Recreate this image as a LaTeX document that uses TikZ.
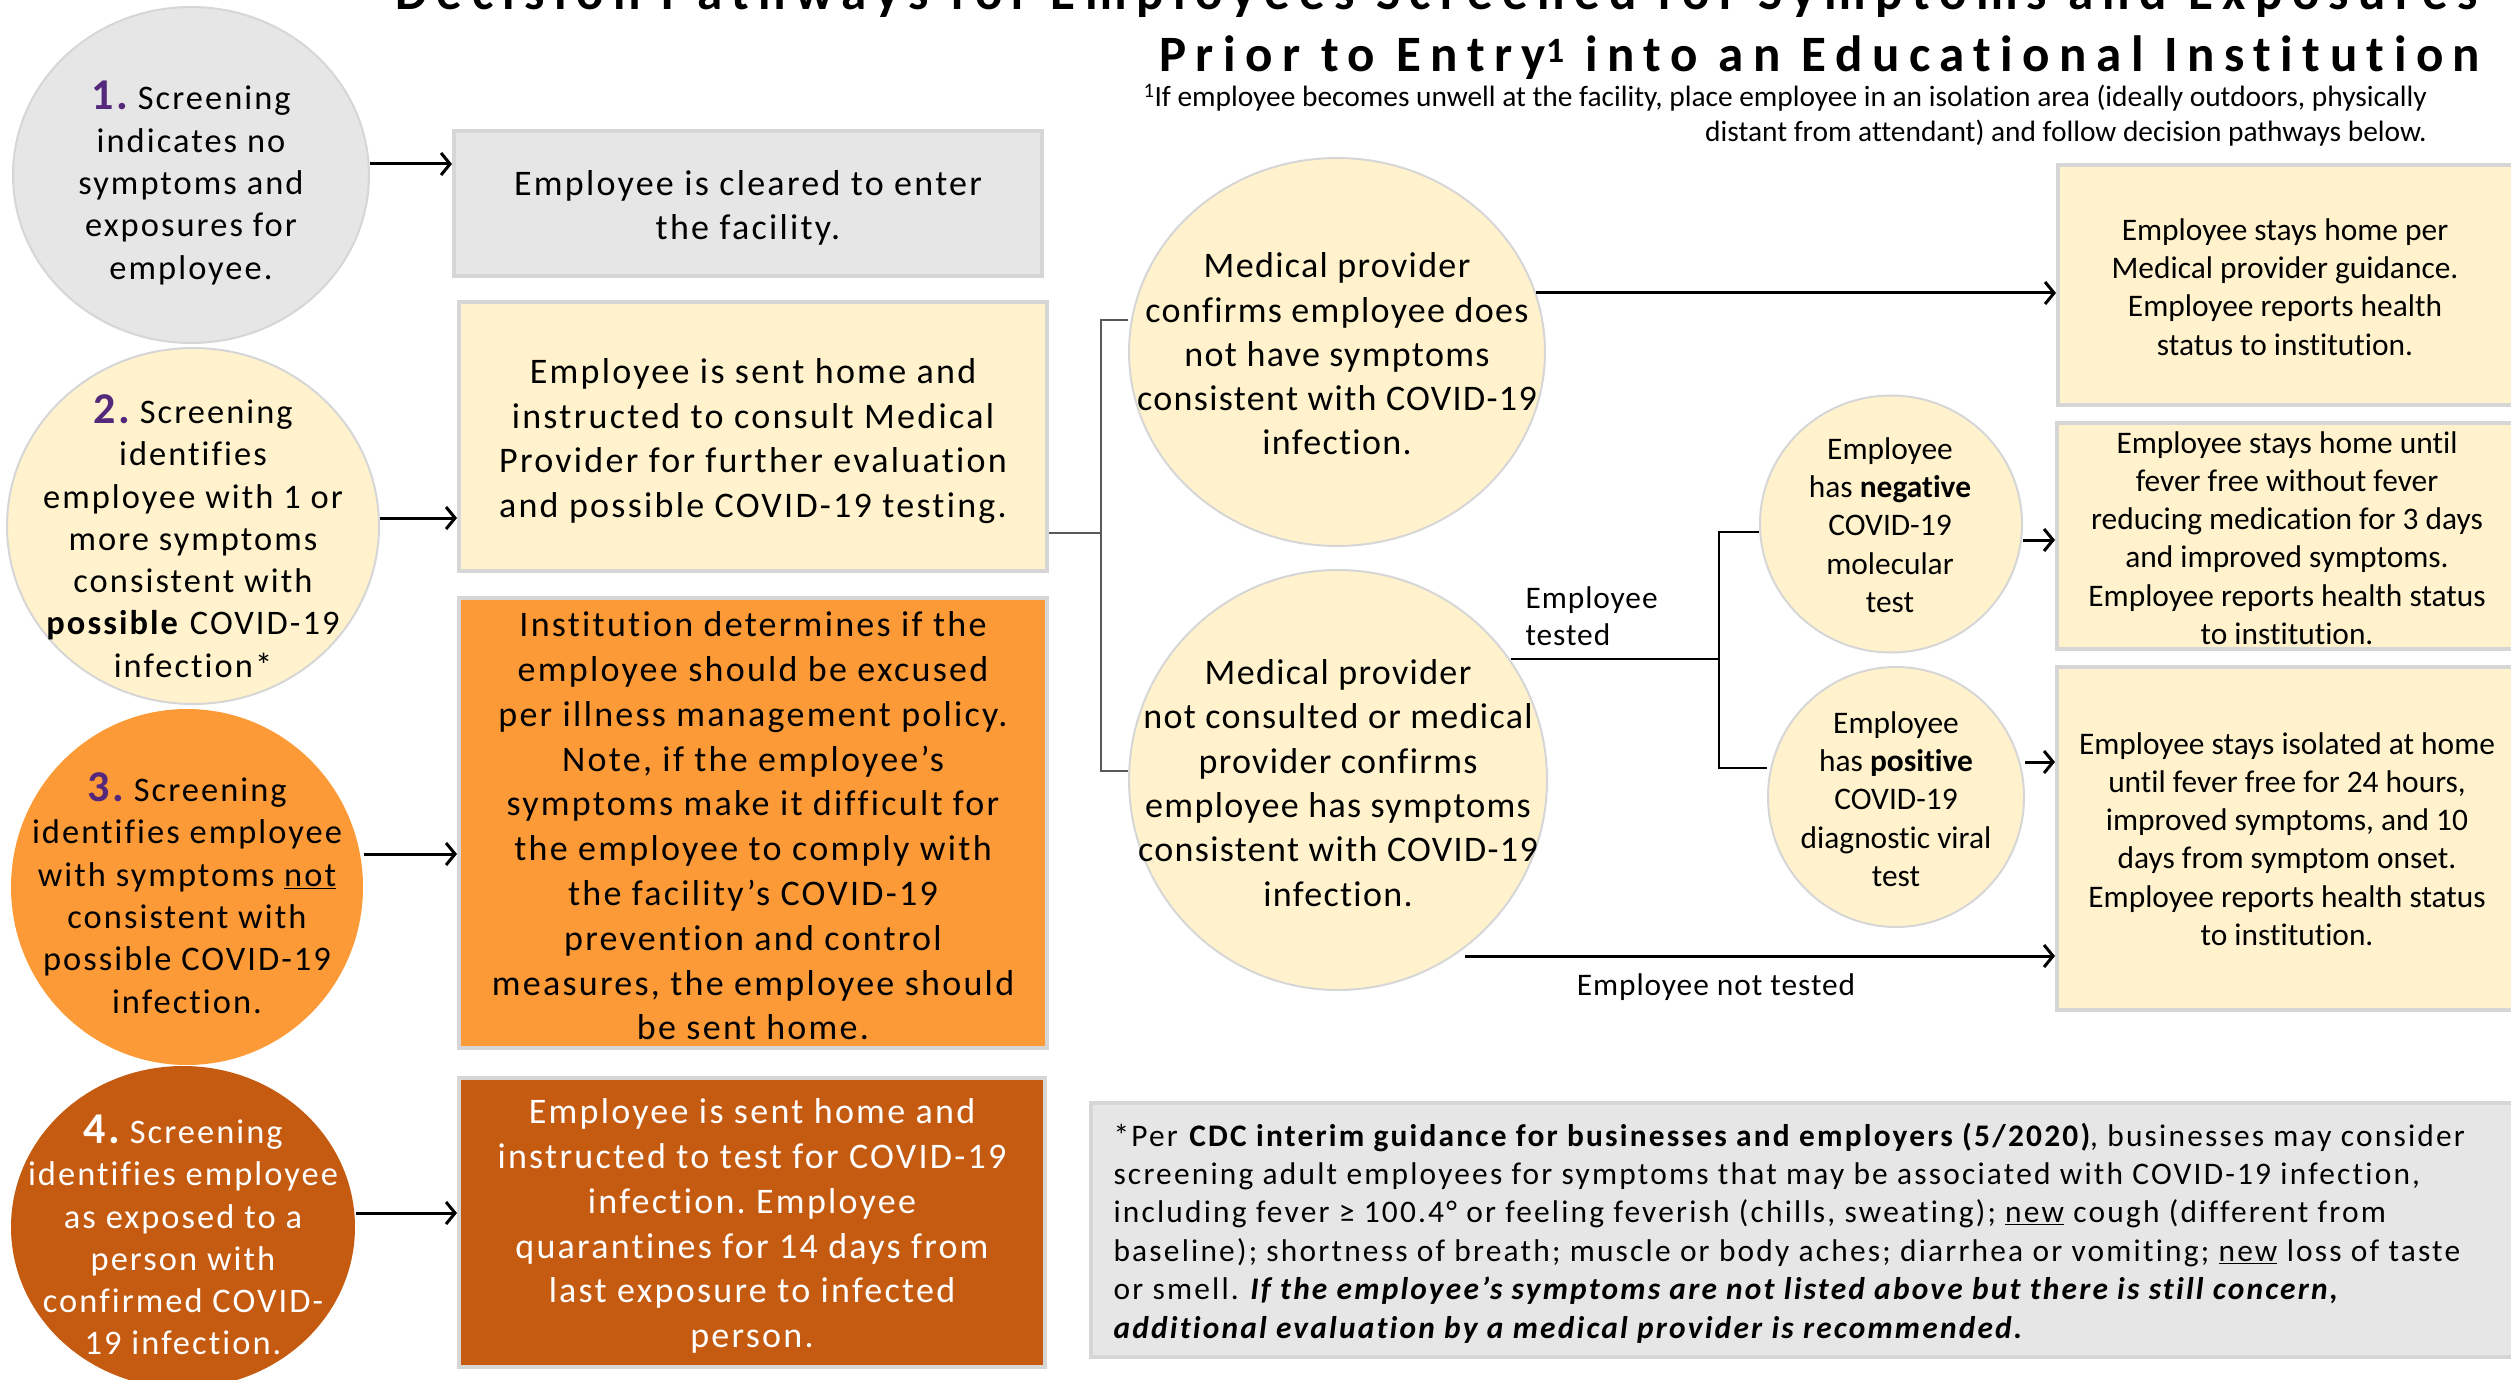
\documentclass[tikz,border=0pt]{standalone}
\usepackage{fontspec}
\setmainfont[Ligatures=NoCommon]{Carlito}
\newfontfamily\circfont[LetterSpace=6,Ligatures=NoCommon]{Carlito}
\newfontfamily\boxfont[LetterSpace=6.3,Ligatures=NoCommon]{Carlito}
\newfontfamily\medfont[LetterSpace=3.7,Ligatures=NoCommon]{Carlito}
\newfontfamily\notefont[LetterSpace=3,Ligatures=NoCommon]{Carlito}
\newfontfamily\bignotefont[LetterSpace=7,Ligatures=NoCommon]{Carlito}
\newfontfamily\titlefont[LetterSpace=18.5,Ligatures=NoCommon]{Carlito}
\usetikzlibrary{shapes.geometric,arrows.meta}
\definecolor{gfill}{HTML}{E6E6E6}
\definecolor{gline}{HTML}{D6D6D6}
\definecolor{yfill}{HTML}{FFF2CC}
\definecolor{ofill}{HTML}{FD9A38}
\definecolor{dfill}{HTML}{C55A11}
\definecolor{purp}{HTML}{54287A}
\definecolor{brk}{HTML}{595959}
\tikzset{
  ell/.style={ellipse, inner sep=0pt, draw=gline, line width=2pt},
  boxst/.style={rectangle, inner sep=0pt, draw=gline, line width=4pt},
  ctext/.style={align=center, font=\circfont\fontsize{34.4}{42.3}\selectfont},
  btext/.style={align=center, font=\boxfont\fontsize{36}{44.8}\selectfont},
  mtext/.style={align=center, font=\medfont\fontsize{36}{44.3}\selectfont},
  rtext/.style={align=center, font=\fontsize{31.4}{38.3}\selectfont},
  lbl/.style={align=left, font=\notefont\fontsize{31.4}{37}\selectfont},
  notest/.style={align=left, font=\bignotefont\fontsize{31.4}{38.4}\selectfont},
  arr/.style={line width=3pt, -{Straight Barb[length=9pt,width=22pt]}},
  conn/.style={line width=2.5pt, draw=brk},
  thin/.style={line width=1.6pt, draw=black},
}
\newcommand{\num}[1]{{\bfseries\fontsize{44}{42}\selectfont #1}}
\begin{document}
\frenchspacing
\begin{tikzpicture}[x=1pt,y=-1pt]
\useasboundingbox (0,0) rectangle (2511,1380);
\clip (0,0) rectangle (2511,1380);

% title
\node[anchor=base east, font=\titlefont\bfseries\fontsize{51}{62}\selectfont, inner sep=0pt] (title1) at (2478,10) {Decision Pathways for Employees Screened for Symptoms and Exposures};
\node[anchor=base east, font=\titlefont\bfseries\fontsize{51}{62}\selectfont, inner sep=0pt] (title2) at (2480,72) {Prior to Entry\textsuperscript{1} into an Educational Institution};
\node[anchor=east, align=right, font=\fontsize{29.4}{35}\selectfont, inner sep=0pt] (fn) at (2427,115) {\textsuperscript{1}If employee becomes unwell at the facility, place employee in an isolation area (ideally outdoors, physically\\ distant from attendant) and follow decision pathways below.};

% left column ellipses
\node[ell, fill=gfill, minimum width=356pt, minimum height=336pt] (c1) at (191,175) {};
\node[ell, fill=yfill, minimum width=372pt, minimum height=356pt] (c2) at (193,526) {};
\node[ell, fill=ofill, draw=none, minimum width=352pt, minimum height=356pt] (c3) at (187,887) {};
\node[ell, fill=dfill, draw=none, minimum width=344pt, minimum height=322pt] (c4) at (183,1227) {};

\node[ctext] (t1) at (191,183) {{\color{purp}\num{1.}} Screening\\ indicates no\\ symptoms and\\ exposures for\\ employee.};
\node[ctext] (t2) at (193,536) {{\color{purp}\num{2.}} Screening\\ identifies\\ employee with 1 or\\ more symptoms\\ consistent with\\ \textbf{possible} COVID-19\\ infection*};
\node[ctext] (t3) at (187,893) {{\color{purp}\num{3.}} Screening\\ identifies employee\\ with symptoms \underline{not}\\ consistent with\\ possible COVID-19\\ infection.};
\node[ctext, text=white] (t4) at (183,1235) {\num{4.} Screening\\ identifies employee\\ as exposed to a\\ person with\\ confirmed COVID-\\ 19 infection.};

% left column boxes
\node[boxst, fill=gfill, minimum width=588pt, minimum height=145pt] (b1) at (748,203.5) {};
\node[boxst, fill=yfill, minimum width=588pt, minimum height=269pt] (b2) at (753,436.5) {};
\node[boxst, fill=ofill, minimum width=588pt, minimum height=450pt] (b3) at (753,823) {};
\node[boxst, fill=dfill, minimum width=586pt, minimum height=289pt] (b4) at (752,1222.5) {};

\node[btext] (tb1) at (748,208) {Employee is cleared to enter\\ the facility.};
\node[btext] (tb2) at (753,441) {Employee is sent home and\\ instructed to consult Medical\\ Provider for further evaluation\\ and possible COVID-19 testing.};
\node[btext] (tb3) at (753,826) {Institution determines if the\\ employee should be excused\\ per illness management policy.\\ Note, if the employee’s\\ symptoms make it difficult for\\ the employee to comply with\\ the facility’s COVID-19\\ prevention and control\\ measures, the employee should\\ be sent home.};
\node[btext, text=white] (tb4) at (752,1226) {Employee is sent home and\\ instructed to test for COVID-19\\ infection. Employee\\ quarantines for 14 days from\\ last exposure to infected\\ person.};

% middle ellipses
\node[ell, fill=yfill, minimum width=416pt, minimum height=388pt] (mA) at (1337,352) {};
\node[ell, fill=yfill, minimum width=418pt, minimum height=420pt] (mB) at (1338,780) {};
\node[mtext] (tA) at (1337,354) {Medical provider\\ confirms employee does\\ not have symptoms\\ consistent with COVID-19\\ infection.};
\node[mtext] (tB) at (1338,783) {Medical provider\\ not consulted or medical\\ provider confirms\\ employee has symptoms\\ consistent with COVID-19\\ infection.};

\node[ell, fill=yfill, minimum width=262pt, minimum height=257pt] (neg) at (1891,524) {};
\node[ell, fill=yfill, minimum width=256pt, minimum height=260pt] (pos) at (1896,797) {};
\node[rtext] (tN) at (1890,525) {Employee\\ has \textbf{negative}\\ COVID-19\\ molecular\\ test};
\node[rtext] (tP) at (1896,799) {Employee\\ has \textbf{positive}\\ COVID-19\\ diagnostic viral\\ test};

% right boxes
\node[boxst, fill=yfill, minimum width=462pt, minimum height=240pt] (r1) at (2289,285) {};
\node[boxst, fill=yfill, minimum width=463pt, minimum height=226pt] (r2) at (2288.5,536) {};
\node[boxst, fill=yfill, minimum width=463pt, minimum height=343pt] (r3) at (2288.5,838.5) {};
\node[rtext] (tR1) at (2285,287) {Employee stays home per\\ Medical provider guidance.\\ Employee reports health\\ status to institution.};
\node[rtext] (tR2) at (2287,538) {Employee stays home until\\ fever free without fever\\ reducing medication for 3 days\\ and improved symptoms.\\ Employee reports health status\\ to institution.};
\node[rtext] (tR3) at (2287,839) {Employee stays isolated at home\\ until fever free for 24 hours,\\ improved symptoms, and 10\\ days from symptom onset.\\ Employee reports health status\\ to institution.};

% note box
\node[boxst, fill=gfill, minimum width=1429pt, minimum height=254pt] (note) at (1805.5,1230) {};
\node[notest, anchor=west] (tNote) at (1110,1233) {*Per \textbf{CDC interim guidance for businesses and employers (5/2020)}, businesses may consider\\
screening adult employees for symptoms that may be associated with COVID-19 infection,\\
including fever ≥ 100.4° or feeling feverish (chills, sweating); \underline{new} cough (different from\\
baseline); shortness of breath; muscle or body aches; diarrhea or vomiting; \underline{new} loss of taste\\
or smell. \textbf{\textit{If the employee’s symptoms are not listed above but there is still concern,}}\\
\textbf{\textit{additional evaluation by a medical provider is recommended.}}};

% labels
\node[lbl, anchor=west] (lT) at (1522,616) {Employee\\ tested};
\node[lbl, anchor=center] (lNT) at (1716,987) {Employee not tested};

% connectors: left column
\draw[arr] ([yshift=11pt]c1.east) -- ([yshift=11pt]c1.east -| b1.west);
\draw[arr] ([yshift=8pt]c2.east) -- ([yshift=8pt]c2.east -| b2.west);
\draw[arr] ([yshift=33pt]c3.east) -- ([yshift=33pt]c3.east -| b3.west);
\draw[arr] ([yshift=14pt]c4.east) -- ([yshift=14pt]c4.east -| b4.west);

% bracket
\coordinate (j1) at (1101,533);
\coordinate (j1t) at (1101,320);
\coordinate (j1b) at (1101,771);
\draw[conn] (b2.east |- j1) -- (j1);
\draw[conn] (mA.west |- j1t) -- (j1t) -- (j1b) -- (mB.west |- j1b);

% A to R1
\path (mA.center) ++(199,-59) coordinate (aA);
\draw[arr] (aA) -- (aA -| r1.west);

% tested branch
\path (mB.center) ++(173,-121) coordinate (bT);
\coordinate (j2) at (1719,659);
\coordinate (j2t) at (1719,532);
\coordinate (j2b) at (1719,768);
\draw[thin] (bT) -- (j2);
\draw[thin] (neg.west |- j2t) -- (j2t) -- (j2b) -- (pos.west |- j2b);
\draw[arr] ([yshift=-16pt]neg.east) -- ([yshift=-16pt]neg.east -| r2.west);
\draw[arr] ([yshift=35pt]pos.east) -- ([yshift=35pt]pos.east -| r3.west);

% not tested
\path (mB.center) ++(127,176) coordinate (bN);
\draw[arr] (bN) -- (bN -| r3.west);
\end{tikzpicture}
\end{document}
